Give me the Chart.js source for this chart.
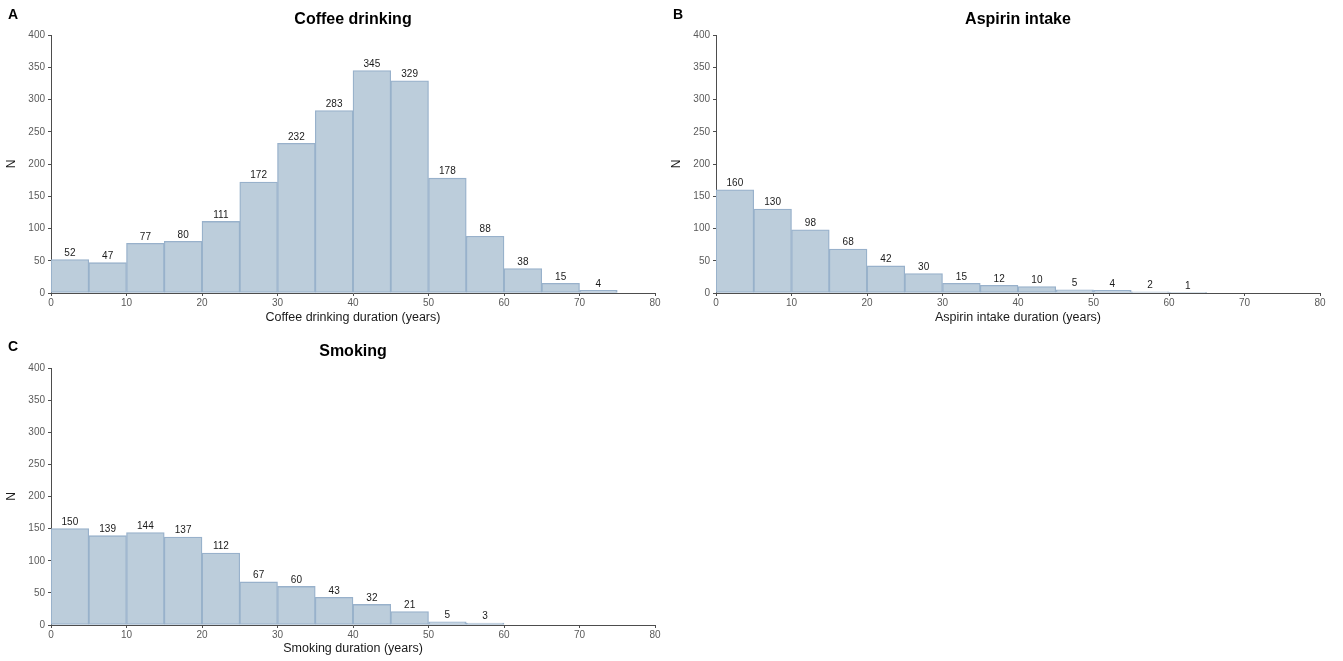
<!DOCTYPE html>
<html>
<head>
<meta charset="utf-8">
<script src="https://cdn.jsdelivr.net/npm/chart.js@4.4.1/dist/chart.umd.min.js"></script>
<style>
  html, body { margin: 0; padding: 0; background: #ffffff; }
  body { width: 1343px; height: 661px; position: relative; overflow: hidden; }
  .panel { position: absolute; }
</style>
</head>
<body>
<div class="panel" style="left:0;top:0;width:665px;height:330px;"><canvas id="chartA"></canvas></div>
<div class="panel" style="left:665px;top:0;width:678px;height:330px;"><canvas id="chartB"></canvas></div>
<div class="panel" style="left:0;top:330px;width:665px;height:331px;"><canvas id="chartC"></canvas></div>
<script>
// Bin start (years) of each 5-year histogram bin
const coffeeBins  = [0, 5, 10, 15, 20, 25, 30, 35, 40, 45, 50, 55, 60, 65, 70];
const aspirinBins = [0, 5, 10, 15, 20, 25, 30, 35, 40, 45, 50, 55, 60];
const smokingBins = [0, 5, 10, 15, 20, 25, 30, 35, 40, 45, 50, 55];

// Counts per bin
const coffeeCounts  = [52, 47, 77, 80, 111, 172, 232, 283, 345, 329, 178, 88, 38, 15, 4];
const aspirinCounts = [160, 130, 98, 68, 42, 30, 15, 12, 10, 5, 4, 2, 1];
const smokingCounts = [150, 139, 144, 137, 112, 67, 60, 43, 32, 21, 5, 3];

// Axis ticks
const xTicks = [0, 10, 20, 30, 40, 50, 60, 70, 80];
const yTicks = [0, 50, 100, 150, 200, 250, 300, 350, 400];

const binWidth = 5;
const FONT = "'Liberation Sans', Arial, Helvetica, sans-serif";

// Titles, panel letters and count labels above each bar
const panelText = {
  id: 'panelText',
  afterDatasetsDraw(chart, args, opts) {
    const ctx = chart.ctx;
    const area = chart.chartArea;
    ctx.save();
    // count labels
    const meta = chart.getDatasetMeta(0);
    const values = chart.data.datasets[0].data;
    ctx.font = '10px ' + FONT;
    ctx.fillStyle = '#1a1a1a';
    ctx.textAlign = 'center';
    ctx.textBaseline = 'bottom';
    meta.data.forEach((bar, i) => {
      ctx.fillText(String(values[i].y), bar.x, bar.y - 1.5);
    });
    // panel title
    ctx.font = 'bold 16px ' + FONT;
    ctx.fillStyle = '#000000';
    ctx.textBaseline = 'middle';
    ctx.fillText(opts.title, (area.left + area.right) / 2, area.top - opts.titleGap);
    // panel letter
    ctx.font = 'bold 14px ' + FONT;
    ctx.textAlign = 'left';
    ctx.fillText(opts.letter, 8, opts.letterY);
    ctx.restore();
  }
};

function makeHistogram(id, bins, counts, xTitle, title, letter, geom) {
  const points = bins.map((b, i) => ({ x: b + binWidth / 2, y: counts[i] }));
  return new Chart(document.getElementById(id), {
    type: 'bar',
    data: {
      datasets: [{
        data: points,
        backgroundColor: '#bccddb',
        borderColor: '#98b1cb',
        borderWidth: 1.3,
        borderSkipped: false,
        barPercentage: 1,
        categoryPercentage: 1,
        grouped: false
      }]
    },
    plugins: [panelText],
    options: {
      responsive: true,
      maintainAspectRatio: false,
      animation: false,
      events: [],
      layout: { padding: { top: geom.top, right: geom.right, left: 0, bottom: 0 } },
      plugins: {
        legend: { display: false },
        tooltip: { enabled: false },
        title: { display: false },
        panelText: { title: title, letter: letter, titleGap: geom.titleGap, letterY: geom.letterY }
      },
      scales: {
        x: {
          type: 'linear',
          min: 0,
          max: 80,
          offset: false,
          afterBuildTicks(scale) { scale.ticks = xTicks.map(v => ({ value: v })); },
          afterFit(scale) { scale.height = geom.xHeight; },
          border: { display: true, color: '#4d4d4d', width: 1 },
          grid: { display: true, offset: false, drawOnChartArea: false, drawTicks: true, tickLength: 3, color: '#4d4d4d' },
          ticks: { color: '#5a5a5a', font: { family: FONT, size: 10 }, padding: 1, maxRotation: 0 },
          title: { display: true, text: xTitle, color: '#1a1a1a', font: { family: FONT, size: 12.5 }, padding: { top: 0, bottom: 5 } }
        },
        y: {
          type: 'linear',
          min: 0,
          max: 400,
          afterBuildTicks(scale) { scale.ticks = yTicks.map(v => ({ value: v })); },
          afterFit(scale) { scale.width = 51; },
          border: { display: true, color: '#4d4d4d', width: 1 },
          grid: { display: true, offset: false, drawOnChartArea: false, drawTicks: true, tickLength: 3, color: '#4d4d4d' },
          ticks: { color: '#5a5a5a', font: { family: FONT, size: 10 }, padding: 3 },
          title: { display: true, text: 'N', color: '#1a1a1a', font: { family: FONT, size: 12 }, padding: { top: 4, bottom: 0 } }
        }
      }
    }
  });
}

makeHistogram('chartA', coffeeBins, coffeeCounts, 'Coffee drinking duration (years)', 'Coffee drinking', 'A',
  { top: 35, right: 10, xHeight: 37, titleGap: 15, letterY: 15 });
makeHistogram('chartB', aspirinBins, aspirinCounts, 'Aspirin intake duration (years)', 'Aspirin intake', 'B',
  { top: 35, right: 23, xHeight: 37, titleGap: 15, letterY: 15 });
makeHistogram('chartC', smokingBins, smokingCounts, 'Smoking duration (years)', 'Smoking', 'C',
  { top: 38, right: 10, xHeight: 36, titleGap: 16, letterY: 17 });
</script>
</body>
</html>
